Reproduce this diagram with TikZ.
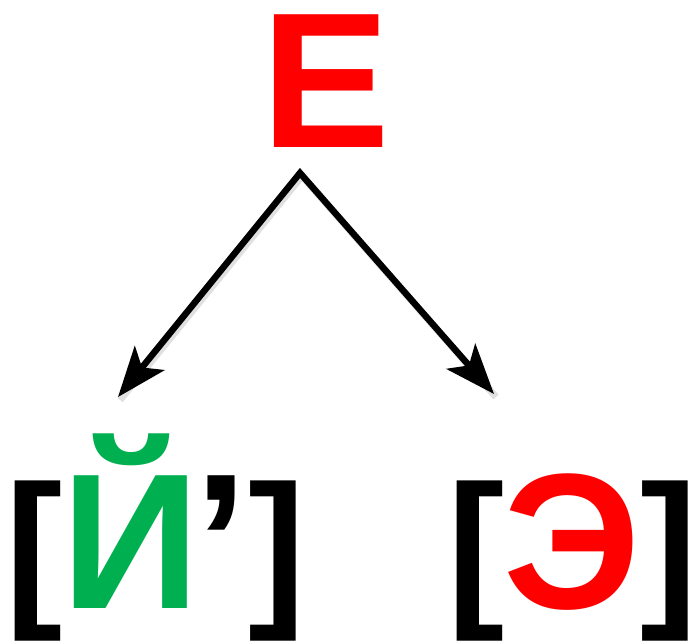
\documentclass[tikz,border=0pt]{standalone}
\usepackage{fontspec}
\setmainfont{Liberation Sans}
\usetikzlibrary{arrows.meta}
\definecolor{myred}{RGB}{255,0,0}
\definecolor{mygreen}{RGB}{0,176,80}
\tikzset{
  letter/.style={inner sep=0pt, anchor=base, text height=0.72em, text depth=0pt, font=\fontsize{193}{193}\selectfont\bfseries},
  brack/.style={inner sep=0pt, anchor=base, text height=0.72em, text depth=0.18em, font=\fontsize{172}{172}\selectfont\bfseries, text=black},
  arr/.style={line width=6.5pt, line join=miter, {Stealth[length=50pt,width=38pt,inset=12pt]}-{Stealth[length=50pt,width=38pt,inset=12pt]}},
  shad/.style={line width=7pt, draw=black, opacity=0.12, line join=miter}
}
\begin{document}
\begin{tikzpicture}[x=1pt,y=1pt]
\useasboundingbox (0,0) rectangle (692,-643);
\node[letter, text=myred] (E) at (326,-147) {Е};
\coordinate (apex) at (300,-173);
\coordinate (tl) at (118,-397);
\coordinate (tr) at (494,-394);
\draw[shad] ([shift={(2,-3)}]tl) -- ([shift={(2,-3)}]apex) -- ([shift={(2,-3)}]tr);
\draw[arr] (tl) -- (apex) -- (tr);
\node[brack] (lb1) at (34,-605) {[};
\node[letter, text=mygreen] (J) at (131,-608) {Й};
\node[letter, text=black] (ap) at (221,-608) {’};
\node[brack] (rb1) at (277,-605) {]};
\node[brack] (lb2) at (476,-605) {[};
\node[letter, text=myred] (Ee) at (572,-608) {Э};
\node[brack] (rb2) at (669,-605) {]};
\end{tikzpicture}
\end{document}
